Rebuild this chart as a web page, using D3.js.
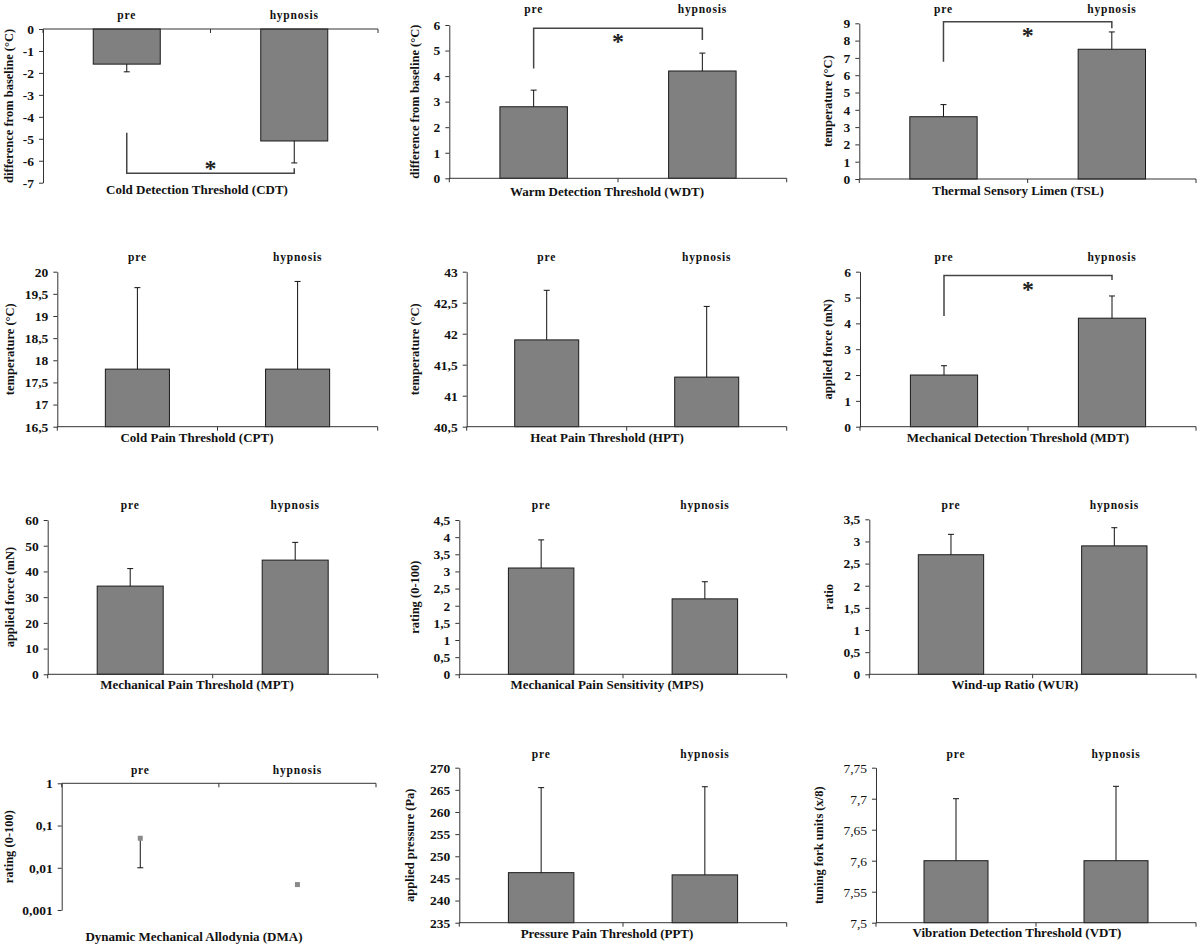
<!DOCTYPE html>
<html>
<head>
<meta charset="utf-8">
<script src="https://cdn.jsdelivr.net/npm/d3@7"></script>
<style>
body { margin: 0; background: #fff; }
svg { display: block; font-family: "Liberation Serif", "Times New Roman", serif; }
</style>
</head>
<body>
<svg id="chart" width="1200" height="946"></svg>
<script>
// conditions on every panel
const groups = ["pre", "hypnosis"];

const panelTitles = [
    "Cold Detection Threshold (CDT)", "Warm Detection Threshold (WDT)", "Thermal Sensory Limen (TSL)",
    "Cold Pain Threshold (CPT)", "Heat Pain Threshold (HPT)", "Mechanical Detection Threshold (MDT)",
    "Mechanical Pain Threshold (MPT)", "Mechanical Pain Sensitivity (MPS)", "Wind-up Ratio (WUR)",
    "Dynamic Mechanical Allodynia (DMA)", "Pressure Pain Threshold (PPT)", "Vibration Detection Threshold (VDT)"
];

const yTitles = [
    "difference from baseline (°C)", "difference from baseline (°C)", "temperature (°C)",
    "temperature (°C)", "temperature (°C)", "applied force (mN)",
    "applied force (mN)", "rating (0-100)", "ratio",
    "rating (0-100)", "applied pressure (Pa)", "tuning fork units (x/8)"
];

// [pre, hypnosis]
const means = [
    [-1.6, -5.1], [2.8, 4.2], [3.6, 7.5],
    [17.8, 17.8], [41.9, 41.3], [2.0, 4.2],
    [34.3, 44.4], [3.1, 2.2], [2.7, 2.9],
    [0.05, 0.004], [246.3, 245.8], [7.6, 7.6]
];

const errors = [
    [0.35, 1.0], [0.65, 0.7], [0.7, 1.0],
    [1.84, 1.98], [0.8, 1.14], [0.36, 0.86],
    [6.8, 6.9], [0.82, 0.5], [0.46, 0.41],
    [0.04, 0], [19.2, 19.9], [0.1, 0.12]
];

const yDomains = [
    [-7, 0], [0, 6], [0, 9],
    [16.5, 20], [40.5, 43], [0, 6],
    [0, 60], [0, 4.5], [0, 3.5],
    [0.001, 1], [235, 270], [7.5, 7.75]
];

const yTickValues = [
    [0, -1, -2, -3, -4, -5, -6, -7], [0, 1, 2, 3, 4, 5, 6], [0, 1, 2, 3, 4, 5, 6, 7, 8, 9],
    [16.5, 17, 17.5, 18, 18.5, 19, 19.5, 20], [40.5, 41, 41.5, 42, 42.5, 43], [0, 1, 2, 3, 4, 5, 6],
    [0, 10, 20, 30, 40, 50, 60], [0, 0.5, 1, 1.5, 2, 2.5, 3, 3.5, 4, 4.5], [0, 0.5, 1, 1.5, 2, 2.5, 3, 3.5],
    [0.001, 0.01, 0.1, 1], [235, 240, 245, 250, 255, 260, 265, 270], [7.5, 7.55, 7.6, 7.65, 7.7, 7.75]
];

// value where the category axis crosses
const axisCross = [0, 0, 0, 16.5, 40.5, 0, 0, 0, 0, 1, 235, 7.5];

const markTypes = ["bar", "bar", "bar", "bar", "bar", "bar", "bar", "bar", "bar", "point", "bar", "bar"];

// significance bracket: [pre arm end, bracket line, hypnosis arm end, asterisk level]
const brackets = [
    [-4.72, -6.57, -6.34, -6.2], [4.3, 5.87, 5.41, 5.5], [6.78, 9.09, 8.71, 8.5],
    null, null, [4.29, 5.85, 5.68, 5.45],
    null, null, null,
    null, null, null
];

// plot boxes
const layout = [
    {l: 43, t: 29, r: 378, b: 182.7, catY: 19, titleX: 197, titleY: 194, yTitleX: 9},
    {l: 449.3, t: 25, r: 786.7, b: 178.3, catY: 12.5, titleX: 607, titleY: 196, yTitleX: 415},
    {l: 859.3, t: 23.3, r: 1196, b: 179, catY: 12.5, titleX: 1018, titleY: 195, yTitleX: 828},
    {l: 57.3, t: 271.7, r: 377.7, b: 426.7, catY: 260.5, titleX: 197, titleY: 442, yTitleX: 10},
    {l: 466.7, t: 271.7, r: 786.7, b: 426.7, catY: 260.5, titleX: 607, titleY: 442, yTitleX: 415},
    {l: 860, t: 271.7, r: 1196, b: 426.7, catY: 260.5, titleX: 1018, titleY: 442, yTitleX: 828},
    {l: 47.7, t: 520, r: 377.7, b: 674.3, catY: 508.5, titleX: 197, titleY: 689, yTitleX: 10},
    {l: 459.3, t: 520, r: 786.7, b: 674.3, catY: 508.5, titleX: 607, titleY: 689, yTitleX: 415},
    {l: 869.3, t: 519.3, r: 1196, b: 674.3, catY: 508.5, titleX: 1015, titleY: 689, yTitleX: 829},
    {l: 61.7, t: 783.3, r: 376, b: 910, catY: 773.5, titleX: 194, titleY: 941, yTitleX: 8.5},
    {l: 459.3, t: 767.7, r: 786.7, b: 922.7, catY: 757.5, titleX: 607, titleY: 938, yTitleX: 410},
    {l: 876, t: 767.7, r: 1196, b: 922.7, catY: 757.5, titleX: 1017, titleY: 937, yTitleX: 819, lightTicks: true}
];

const locale = d3.formatLocale({decimal: ",", thousands: ".", grouping: [3], currency: ["", ""], minus: "-"});
const fmt = locale.format("~g");

const svg = d3.select("#chart");
const axisColor = "#333";

for (let i = 0; i < panelTitles.length; i++) {
    const box = layout[i];
    const g = svg.append("g");

    const x = d3.scaleBand()
        .domain(groups)
        .range([box.l, box.r]);

    const y = (markTypes[i] === "point" ? d3.scaleLog() : d3.scaleLinear())
        .domain(yDomains[i])
        .range([box.b, box.t]);

    const base = axisCross[i];
    const barW = x.bandwidth() * 0.4;

    // y axis
    const yAxis = g.append("g")
        .attr("transform", "translate(" + box.l + ",0)")
        .call(d3.axisLeft(y)
            .tickValues(yTickValues[i])
            .tickFormat(fmt)
            .tickSizeInner(4)
            .tickSizeOuter(0)
            .tickPadding(5));
    yAxis.select(".domain").attr("stroke", axisColor);
    yAxis.selectAll(".tick line").attr("stroke", axisColor);
    yAxis.selectAll(".tick text")
        .attr("fill", "#111")
        .style("font-family", "Liberation Serif")
        .style("font-size", "13.5px")
        .style("font-weight", box.lightTicks ? "normal" : "bold");

    // bars or points
    if (markTypes[i] === "bar") {
        g.selectAll("rect.bar")
            .data(groups)
            .enter()
            .append("rect")
            .attr("class", "bar")
            .attr("x", function(d) { return x(d) + (x.bandwidth() - barW) / 2; })
            .attr("width", barW)
            .attr("y", function(d, j) { return y(Math.max(means[i][j], base)); })
            .attr("height", function(d, j) { return Math.abs(y(means[i][j]) - y(base)); })
            .attr("fill", "#808080")
            .attr("stroke", "#1a1a1a")
            .attr("stroke-width", 1);
    }

    // error bars, pointing away from the axis
    groups.forEach(function(grp, j) {
        const e = errors[i][j];
        if (!e) return;
        const v = means[i][j];
        const dir = v >= base ? 1 : -1;
        const cx = x(grp) + x.bandwidth() / 2;
        const yEnd = y(v + dir * e);
        g.append("line")
            .attr("x1", cx).attr("x2", cx)
            .attr("y1", y(v)).attr("y2", yEnd)
            .attr("stroke", "#111").attr("stroke-width", 1);
        g.append("line")
            .attr("x1", cx - 3).attr("x2", cx + 3)
            .attr("y1", yEnd).attr("y2", yEnd)
            .attr("stroke", "#111").attr("stroke-width", 1);
    });

    if (markTypes[i] === "point") {
        g.selectAll("rect.pt")
            .data(groups)
            .enter()
            .append("rect")
            .attr("class", "pt")
            .attr("x", function(d) { return x(d) + x.bandwidth() / 2 - 2.5; })
            .attr("y", function(d, j) { return y(means[i][j]) - 2.5; })
            .attr("width", 5)
            .attr("height", 5)
            .attr("fill", "#8a8a8a");
    }

    // category axis with ticks at band edges
    const yAx = y(base);
    g.append("line")
        .attr("x1", box.l).attr("x2", box.r)
        .attr("y1", yAx).attr("y2", yAx)
        .attr("stroke", axisColor).attr("stroke-width", 1);
    const edges = groups.map(function(d) { return x(d); }).concat([x.range()[1]]);
    g.selectAll("line.xtick")
        .data(edges)
        .enter()
        .append("line")
        .attr("class", "xtick")
        .attr("x1", function(d) { return d; })
        .attr("x2", function(d) { return d; })
        .attr("y1", yAx)
        .attr("y2", yAx + 4)
        .attr("stroke", axisColor);

    // condition labels above the plot
    g.selectAll("text.cat")
        .data(groups)
        .enter()
        .append("text")
        .attr("class", "cat")
        .attr("x", function(d) { return x(d) + x.bandwidth() / 2; })
        .attr("y", box.catY)
        .attr("text-anchor", "middle")
        .style("font-size", "11.5px")
        .style("font-weight", "bold")
        .style("letter-spacing", "0.8px")
        .attr("fill", "#111")
        .text(function(d) { return d; });

    // test title under the plot
    g.append("text")
        .attr("x", box.titleX)
        .attr("y", box.titleY)
        .attr("text-anchor", "middle")
        .style("font-size", "13px")
        .style("font-weight", "bold")
        .attr("fill", "#111")
        .text(panelTitles[i]);

    // y axis title
    g.append("text")
        .attr("transform", "translate(" + box.yTitleX + "," + (box.t + box.b) / 2 + ") rotate(-90)")
        .attr("text-anchor", "middle")
        .attr("dy", "0.35em")
        .style("font-size", "12.5px")
        .style("font-weight", "bold")
        .attr("fill", "#111")
        .text(yTitles[i]);

    // significance bracket
    const br = brackets[i];
    if (br) {
        const x0 = x(groups[0]) + x.bandwidth() / 2;
        const x1 = x(groups[1]) + x.bandwidth() / 2;
        g.append("path")
            .attr("d", d3.line()([[x0, y(br[0])], [x0, y(br[1])], [x1, y(br[1])], [x1, y(br[2])]]))
            .attr("fill", "none")
            .attr("stroke", "#444")
            .attr("stroke-width", 1.5);
        g.append("text")
            .attr("x", (x0 + x1) / 2)
            .attr("y", y(br[3]))
            .attr("dy", "0.45em")
            .attr("text-anchor", "middle")
            .style("font-size", "24px")
            .style("font-weight", "bold")
            .attr("fill", "#222")
            .text("*");
    }
}
</script>
</body>
</html>
